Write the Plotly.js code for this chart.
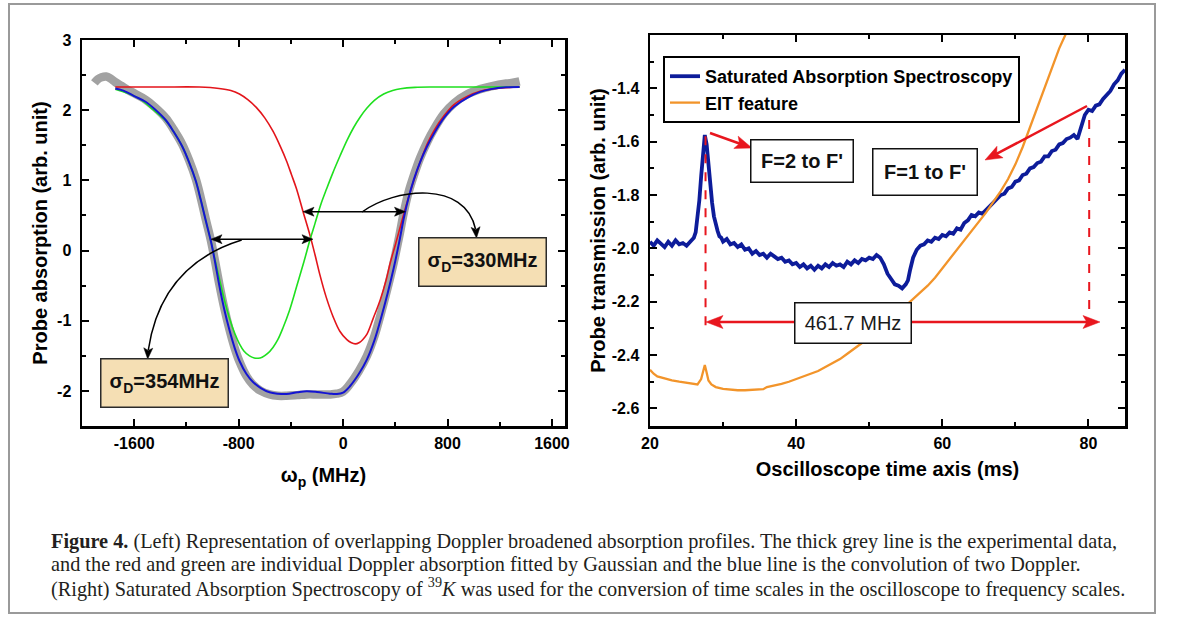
<!DOCTYPE html>
<html>
<head>
<meta charset="utf-8">
<script src="https://cdn.plot.ly/plotly-3.0.1.min.js"></script>
<style>html,body{margin:0;padding:0;background:#fff;}#chart{width:1182px;height:617px;}</style>
</head>
<body>
<div id="chart"></div>
<script>
// ---------- Left panel: Doppler profiles (x in MHz) ----------
const greyX = [-1905,-1880,-1850,-1815,-1780,-1745,-1700,-1650,-1600,-1513,-1440,-1359,-1300,-1231,-1180,-1128,-1090,-1051,-1012,-980,-948,-910,-871,-830,-794,-740,-692,-630,-563,-500,-434,-350,-280,-200,-100,-49,0,54,120,183,240,285,340,388,430,465,500,542,590,645,700,773,850,954,1050,1133,1250,1300,1352];
const greyY = [2.39,2.44,2.47,2.48,2.45,2.40,2.35,2.29,2.24,2.15,2.04,1.89,1.73,1.51,1.29,1.02,0.75,0.44,0.14,-0.16,-0.48,-0.82,-1.12,-1.39,-1.58,-1.79,-1.91,-2.00,-2.05,-2.07,-2.07,-2.06,-2.05,-2.05,-2.05,-2.04,-2.01,-1.90,-1.72,-1.50,-1.22,-0.93,-0.54,-0.17,0.20,0.54,0.82,1.07,1.32,1.55,1.74,1.95,2.10,2.23,2.30,2.34,2.38,2.39,2.41];

const redX = [-1745,-1400,-1100,-950,-860,-794,-730,-665,-600,-537,-480,-434,-395,-357,-306,-254,-215,-177,-130,-75,-25,29,60,93,125,150,183,230,285,330,362,400,440,480,520,560,600,645,700,773,850,954,1050,1133,1250,1352];
const redY = [2.33,2.33,2.33,2.31,2.28,2.23,2.15,2.04,1.89,1.70,1.48,1.28,1.08,0.88,0.55,0.22,-0.06,-0.35,-0.66,-0.95,-1.15,-1.27,-1.31,-1.33,-1.31,-1.27,-1.19,-0.97,-0.70,-0.42,-0.17,0.08,0.35,0.62,0.87,1.10,1.31,1.52,1.72,1.92,2.08,2.20,2.27,2.30,2.32,2.33];

const greenX = [-1745,-1650,-1550,-1450,-1359,-1300,-1231,-1180,-1128,-1090,-1051,-1012,-980,-948,-910,-871,-830,-794,-760,-717,-680,-650,-620,-580,-537,-500,-460,-410,-357,-300,-254,-216,-170,-126,-80,-23,30,80,130,183,240,311,380,440,550,697,900,1108,1352];
const greenY = [2.30,2.24,2.15,2.00,1.85,1.70,1.48,1.26,0.99,0.72,0.42,0.13,-0.14,-0.40,-0.70,-0.96,-1.18,-1.33,-1.43,-1.50,-1.53,-1.535,-1.52,-1.47,-1.38,-1.27,-1.10,-0.85,-0.52,-0.16,0.15,0.38,0.66,0.88,1.10,1.35,1.57,1.75,1.90,2.03,2.14,2.23,2.28,2.305,2.325,2.33,2.33,2.33,2.33];

const blueX = [-1745,-1700,-1650,-1600,-1513,-1440,-1359,-1300,-1231,-1180,-1128,-1090,-1051,-1012,-980,-948,-910,-871,-830,-794,-740,-692,-630,-563,-500,-434,-350,-280,-200,-100,-49,0,54,120,183,240,285,340,388,430,465,500,542,590,645,700,773,850,954,1050,1133,1250,1352];
const blueY = [2.31,2.29,2.25,2.20,2.12,2.01,1.86,1.70,1.48,1.26,0.99,0.72,0.42,0.13,-0.17,-0.50,-0.84,-1.13,-1.39,-1.57,-1.76,-1.87,-1.96,-2.02,-2.04,-2.045,-2.02,-2.005,-2.015,-2.04,-2.045,-2.025,-1.93,-1.76,-1.55,-1.28,-1.00,-0.62,-0.25,0.12,0.46,0.74,1.01,1.26,1.49,1.68,1.89,2.05,2.18,2.26,2.30,2.325,2.33];

const leftXTicks = [-1600,-800,0,800,1600];
const leftXMinor = [-1200,-400,400,1200];
const leftYTicks = [-2,-1,0,1,2,3];
const leftYMinor = [-1.5,-0.5,0.5,1.5,2.5];

// ---------- Right panel: oscilloscope traces (t in ms) ----------
const sasT = [20,20.5,21,21.5,22,22.5,23,23.5,24,24.5,25,25.5,26,26.25,26.5,26.75,27,27.25,27.5,27.75,28,28.25,28.5,28.75,29,29.25,29.5,29.75,30,30.5,31,31.5,32,32.5,33,33.5,34,34.5,35,35.5,36,36.5,37,37.5,38,38.5,39,39.5,40,40.5,41,41.5,42,42.5,43,43.5,44,44.5,45,45.5,46,46.5,47,47.5,48,48.5,49,49.5,50,50.5,51,51.5,52,52.5,53,53.5,54,54.5,55,55.3,55.6,56,56.5,57,57.5,58,58.5,59,59.5,60,60.5,61,61.5,62,62.5,63,63.5,64,64.5,65,65.5,66,66.5,67,67.5,68,68.5,69,69.5,70,70.5,71,71.5,72,72.5,73,73.5,74,74.5,75,75.5,76,76.5,77,77.5,78,78.5,79,79.5,80,80.5,81,81.5,82,82.5,83,83.5,84,84.5,85];
const sasV = [-1.975,-1.99,-1.97,-1.985,-1.995,-1.975,-1.99,-1.97,-1.985,-1.98,-1.99,-1.975,-1.96,-1.94,-1.89,-1.82,-1.73,-1.64,-1.575,-1.61,-1.69,-1.77,-1.83,-1.88,-1.915,-1.935,-1.955,-1.96,-1.975,-1.965,-1.985,-1.98,-1.995,-1.985,-2.005,-2.0,-2.02,-2.01,-2.025,-2.02,-2.035,-2.02,-2.03,-2.04,-2.035,-2.05,-2.045,-2.06,-2.055,-2.07,-2.06,-2.075,-2.065,-2.08,-2.065,-2.075,-2.06,-2.07,-2.055,-2.065,-2.06,-2.07,-2.05,-2.06,-2.045,-2.055,-2.04,-2.045,-2.035,-2.04,-2.025,-2.035,-2.06,-2.095,-2.115,-2.135,-2.14,-2.15,-2.135,-2.12,-2.08,-2.035,-2.005,-1.99,-1.985,-1.97,-1.975,-1.96,-1.965,-1.95,-1.955,-1.94,-1.945,-1.925,-1.93,-1.905,-1.895,-1.875,-1.88,-1.865,-1.87,-1.855,-1.84,-1.825,-1.815,-1.80,-1.795,-1.775,-1.77,-1.75,-1.745,-1.725,-1.72,-1.70,-1.695,-1.68,-1.675,-1.655,-1.655,-1.635,-1.63,-1.61,-1.605,-1.59,-1.585,-1.575,-1.59,-1.55,-1.50,-1.48,-1.485,-1.465,-1.46,-1.44,-1.425,-1.41,-1.385,-1.37,-1.345,-1.33];

const eitT = [20,20.5,21,22,23,24,25,26,26.5,27,27.3,27.5,27.7,28,28.4,29,30,31,32,33,34,35,35.5,36,37,38,39,40,41,42,43,44,45,46,47,48,49,50,51,52,53,54,55,56,57,58,59,60,61,62,63,64,65,66,67,68,69,70,71,72,73,74,75,76,77,77.5];
const eitV = [-2.455,-2.47,-2.48,-2.488,-2.495,-2.50,-2.505,-2.51,-2.51,-2.49,-2.46,-2.437,-2.46,-2.495,-2.51,-2.52,-2.527,-2.53,-2.532,-2.532,-2.53,-2.53,-2.528,-2.52,-2.515,-2.508,-2.50,-2.49,-2.482,-2.472,-2.46,-2.445,-2.43,-2.415,-2.395,-2.375,-2.355,-2.33,-2.305,-2.28,-2.255,-2.24,-2.215,-2.19,-2.165,-2.14,-2.11,-2.075,-2.04,-2.005,-1.97,-1.935,-1.90,-1.865,-1.825,-1.785,-1.74,-1.685,-1.62,-1.545,-1.47,-1.40,-1.325,-1.25,-1.19,-1.15];

const rightXTicks = [20,40,60,80];
const rightXMinor = [30,50,70];
const rightYTicks = [-2.6,-2.4,-2.2,-2.0,-1.8,-1.6,-1.4];
const rightYMinor = [-2.5,-2.3,-2.1,-1.9,-1.7,-1.5,-1.3];

const captionLines = [
  "<b>Figure 4.</b> (Left) Representation of overlapping Doppler broadened absorption profiles. The thick grey line is the experimental data,",
  "and the red and green are individual Doppler absorption fitted by Gaussian and the blue line is the convolution of two Doppler.",
  "(Right) Saturated Absorption Spectroscopy of <sup>39</sup><i>K</i> was used for the conversion of time scales in the oscilloscope to frequency scales."
];

// ---------- geometry helpers (pixel -> paper) ----------
const W = 1182, H = 617;
const px = x => x / W;
const py = y => (H - y) / H;

const FAM = 'Liberation Sans, Arial, sans-serif';
const tickFont = {family:FAM, size:16, color:'black', weight:'bold'};
const titleFont = {family:FAM, size:20, color:'black', weight:'bold'};
function axisBase(extra){
  return Object.assign({
    ticks:'inside', ticklen:7, tickwidth:2, tickcolor:'black',
    showline:true, linewidth:2.5, linecolor:'black', mirror:'allticks',
    showgrid:false, zeroline:false, tickmode:'array', tickfont:tickFont
  }, extra);
}
function minor(vals){ return {tickvals:vals, ticks:'inside', ticklen:4, tickwidth:2, tickcolor:'black', showgrid:false}; }
const hyphen = v => String(v);            // ASCII hyphen-minus like the reference
const oneDec = v => v.toFixed(1);

// arrow drawing (pixel-space description -> paper shapes)
function arrowShapes(tail, tip, color, width, len, hw, doubleHead){
  const out = [];
  const dx = tip[0]-tail[0], dy = tip[1]-tail[1], L = Math.hypot(dx,dy), ux = dx/L, uy = dy/L;
  const s = doubleHead ? [tail[0]+ux*len*0.7, tail[1]+uy*len*0.7] : tail;
  const e = [tip[0]-ux*len*0.7, tip[1]-uy*len*0.7];
  out.push({type:'line', xref:'paper', yref:'paper', x0:px(s[0]), y0:py(s[1]), x1:px(e[0]), y1:py(e[1]), line:{color:color, width:width}});
  out.push(headShape(tip, [ux,uy], color, len, hw));
  if (doubleHead) out.push(headShape(tail, [-ux,-uy], color, len, hw));
  return out;
}
function headShape(tip, u, color, len, hw){
  const [ux,uy] = u;
  const bx = tip[0]-ux*len, by = tip[1]-uy*len;
  const nx = tip[0]-ux*len*0.78, ny = tip[1]-uy*len*0.78;
  const p1 = [bx - uy*hw, by + ux*hw], p2 = [bx + uy*hw, by - ux*hw];
  const pt = p => `${px(p[0])},${py(p[1])}`;
  return {type:'path', xref:'paper', yref:'paper', path:`M ${pt(tip)} L ${pt(p1)} L ${pt([nx,ny])} L ${pt(p2)} Z`, fillcolor:color, line:{color:color, width:0.5}};
}
function unit(v){ const l = Math.hypot(v[0], v[1]); return [v[0]/l, v[1]/l]; }
function curvePath(cmds){
  return cmds.map(c => {
    const nums = c.slice(1), parts = [];
    for (let i = 0; i < nums.length; i += 2) parts.push(px(nums[i]) + ',' + py(nums[i+1]));
    return c[0] + ' ' + parts.join(' ');
  }).join(' ');
}

const traces = [
  {x:greyX, y:greyY, type:'scatter', mode:'lines', line:{color:'#a2a2a2', width:8.5, shape:'spline'}, xaxis:'x', yaxis:'y', showlegend:false, name:'data'},
  {x:redX, y:redY, type:'scatter', mode:'lines', line:{color:'#e3151b', width:1.6, shape:'spline'}, xaxis:'x', yaxis:'y', showlegend:false, name:'red'},
  {x:greenX, y:greenY, type:'scatter', mode:'lines', line:{color:'#1fe01f', width:1.6, shape:'spline'}, xaxis:'x', yaxis:'y', showlegend:false, name:'green'},
  {x:blueX, y:blueY, type:'scatter', mode:'lines', line:{color:'#1414d2', width:2, shape:'spline'}, xaxis:'x', yaxis:'y', showlegend:false, name:'blue'},
  {x:sasT, y:sasV, type:'scatter', mode:'lines', line:{color:'#0d1c9a', width:3.8}, xaxis:'x2', yaxis:'y2', name:'Saturated Absorption Spectroscopy'},
  {x:eitT, y:eitV, type:'scatter', mode:'lines', line:{color:'#f2942a', width:2.3}, xaxis:'x2', yaxis:'y2', name:'EIT feature'}
];

const red = '#e8161e';
const black = '#000';
const annBox = {showarrow:false, xref:'paper', yref:'paper', xanchor:'center', yanchor:'middle', borderpad:0};
const annotations = [
  Object.assign({}, annBox, {x:px(482), y:py(262), width:126, height:47, text:'σ<sub>D</sub>=330MHz', bgcolor:'#f5dfb4', bordercolor:'#2b2b2b', borderwidth:1.5, font:{family:FAM, size:20, color:'#111', weight:'bold'}}),
  Object.assign({}, annBox, {x:px(164), y:py(383), width:126, height:47, text:'σ<sub>D</sub>=354MHz', bgcolor:'#f5dfb4', bordercolor:'#2b2b2b', borderwidth:1.5, font:{family:FAM, size:20, color:'#111', weight:'bold'}}),
  Object.assign({}, annBox, {x:px(852.5), y:py(322.5), width:115, height:39, text:'461.7 MHz', bgcolor:'white', bordercolor:'#111', borderwidth:1.5, font:{family:FAM, size:20, color:'#1a1a1a'}}),
  Object.assign({}, annBox, {x:px(802), y:py(161), width:101, height:41, text:"F=2 to F'", bgcolor:'white', bordercolor:'#111', borderwidth:1.5, font:{family:FAM, size:20, color:'#111', weight:'bold'}}),
  Object.assign({}, annBox, {x:px(925), y:py(172), width:103, height:45, text:"F=1 to F'", bgcolor:'white', bordercolor:'#111', borderwidth:1.5, font:{family:FAM, size:20, color:'#111', weight:'bold'}})
].concat(captionLines.map((t, i) => ({
  xref:'paper', yref:'paper', x:px(49), y:py(541 + 23*i), xanchor:'left', yanchor:'middle', align:'left', showarrow:false,
  text:t, font:{family:'Liberation Serif, Times New Roman, serif', size:20.3, color:'#231f20'}
})));

const shapes = [
  {type:'rect', xref:'paper', yref:'paper', x0:px(9), x1:px(1155), y0:py(613), y1:py(4), line:{color:'#9a9a9a', width:2}, layer:'below'},
  // dashed verticals (right panel)
  {type:'line', xref:'x2', yref:'y2', x0:27.6, x1:27.6, y0:-1.58, y1:-2.295, line:{color:red, width:2, dash:'dash'}},
  {type:'line', xref:'x2', yref:'y2', x0:80.1, x1:80.1, y0:-1.519, y1:-2.239, line:{color:red, width:2, dash:'dash'}},
  // curved connectors (left panel)
  {type:'path', xref:'paper', yref:'paper', path:curvePath([['M',241.7,240],['Q',161,265,148.3,350]]), line:{color:black, width:1.5}},
  {type:'path', xref:'paper', yref:'paper', path:curvePath([['M',362,212],['C',395,188,465,180,475.5,229]]), line:{color:black, width:1.5}},
  headShape([147.7,359], unit([-0.05,1]), black, 11, 4.5),
  headShape([476.5,238], unit([0.08,1]), black, 11, 4.5)
]
// black double arrows
.concat(arrowShapes([211,239.2],[313,239.2], black, 1.5, 11, 4.5, true))
.concat(arrowShapes([303,211.7],[405.5,211.7], black, 1.5, 11, 4.5, true))
// red arrows (right panel)
.concat(arrowShapes([706,322],[1100,322], red, 2.5, 17, 6.5, true))
.concat(arrowShapes([710,133],[752,148], red, 2.5, 17, 6.5, false))
.concat(arrowShapes([1087,106],[985,160], red, 2.5, 17, 6.5, false));

const layout = {
  width:W, height:H, margin:{l:0, r:0, t:0, b:0},
  paper_bgcolor:'white', plot_bgcolor:'white',
  font:{family:FAM, color:'black'},
  showlegend:true,
  legend:{x:px(663), y:py(56), xanchor:'left', yanchor:'top', bgcolor:'white', bordercolor:'black', borderwidth:2,
          font:{family:FAM, size:18, color:'black', weight:'bold'}, tracegroupgap:0},
  xaxis: axisBase({domain:[px(82), px(565)], range:[-2000,1700], tickvals:leftXTicks, ticktext:leftXTicks.map(hyphen), minor:minor(leftXMinor), anchor:'y', ticklabelstandoff:1,
          title:{text:'ω<sub>p</sub> (MHz)', font:titleFont, standoff:18}}),
  yaxis: axisBase({domain:[py(426), py(40)], range:[-2.5,3], tickvals:leftYTicks, ticktext:leftYTicks.map(hyphen), minor:minor(leftYMinor), anchor:'x', ticklabelstandoff:5,
          title:{text:'Probe absorption (arb. unit)', font:titleFont, standoff:4}}),
  xaxis2: axisBase({domain:[px(650), px(1125)], range:[20,85], tickvals:rightXTicks, ticktext:rightXTicks.map(hyphen), minor:minor(rightXMinor), anchor:'y2', ticklabelstandoff:1,
          title:{text:'Oscilloscope time axis (ms)', font:titleFont, standoff:12}}),
  yaxis2: axisBase({domain:[py(426), py(35)], range:[-2.666,-1.2], tickvals:rightYTicks, ticktext:rightYTicks.map(oneDec), minor:minor(rightYMinor), anchor:'x2', ticklabelstandoff:5,
          title:{text:'Probe transmission (arb. unit)', font:titleFont, standoff:1}}),
  annotations: annotations,
  shapes: shapes
};

Plotly.newPlot('chart', traces, layout, {displayModeBar:false, staticPlot:true});
</script>
</body>
</html>
